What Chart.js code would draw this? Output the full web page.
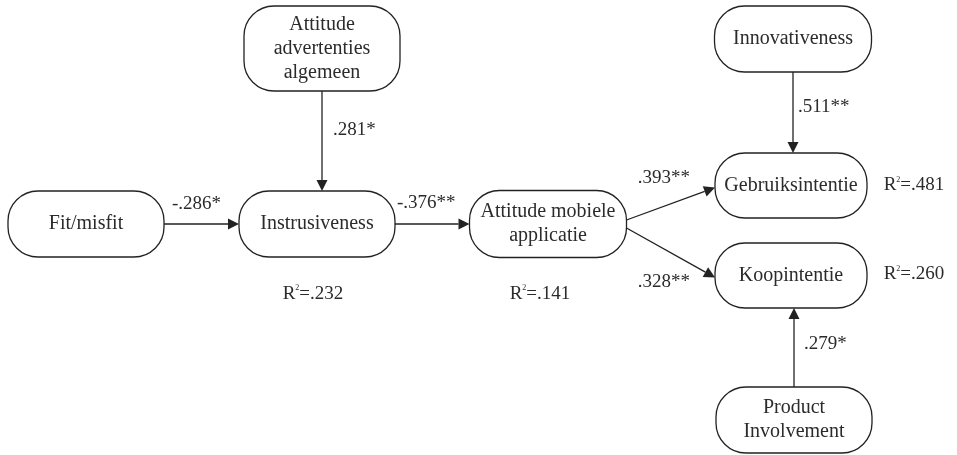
<!DOCTYPE html>
<html>
<head>
<meta charset="utf-8">
<script src="https://cdn.jsdelivr.net/npm/chart.js@4/dist/chart.umd.min.js"></script>
<style>
  html, body { margin: 0; background: #fff; }
</style>
</head>
<body>
<canvas id="path-model" width="957" height="455"></canvas>
<script>
// constructs of the structural model
const constructs = [
  'Fit/misfit',
  'Instrusiveness',
  'Attitude\nadvertenties\nalgemeen',
  'Attitude mobiele\napplicatie',
  'Innovativeness',
  'Gebruiksintentie',
  'Koopintentie',
  'Product\nInvolvement'
];

// paths (index into constructs) and their standardized coefficients
const pathFrom = [0, 2, 1, 3, 3, 4, 7];
const pathTo = [1, 1, 3, 5, 6, 5, 6];
const pathCoefficients = ['-.286*', '.281*', '-.376**', '.393**', '.328**', '.511**', '.279*'];

// explained variance
const explainedConstructs = [1, 3, 5, 6];
const rSquared = ['.232', '.141', '.481', '.260'];

// layout (diagram units = pixels of the original figure)
const nodeX = [86, 317, 322, 548, 793, 791, 791, 794];
const nodeY = [224, 224, 48.5, 224, 39, 185.5, 275.5, 420];
const nodeW = [156, 156, 156, 157, 157, 152, 152, 156];
const nodeH = [66, 66, 85, 67, 66, 65, 65, 66];
const coefDX = [-5, 11, -6, -7, -7, 5, 10];
const coefDY = [-20, -11, -21, -26, 29, -5, -3];
const coefAlign = ['center', 'left', 'center', 'center', 'center', 'left', 'left'];
const r2DX = [-4, -8, 123, 123];
const r2DY = [70, 70, 0, -1];

const INK = '#222';
const TEXT = '#2b2b2b';
const FONT = '"Liberation Serif", "DejaVu Serif", serif';

const roundedBox = (ctx, x, y, w, h, r) => {
  ctx.beginPath();
  ctx.moveTo(x + r, y);
  ctx.lineTo(x + w - r, y);
  ctx.arcTo(x + w, y, x + w, y + r, r);
  ctx.lineTo(x + w, y + h - r);
  ctx.arcTo(x + w, y + h, x + w - r, y + h, r);
  ctx.lineTo(x + r, y + h);
  ctx.arcTo(x, y + h, x, y + h - r, r);
  ctx.lineTo(x, y + r);
  ctx.arcTo(x, y, x + r, y, r);
  ctx.closePath();
};

const drawArrow = (ctx, x1, y1, x2, y2) => {
  const angle = Math.atan2(y2 - y1, x2 - x1);
  const head = 11;
  const half = 5.5;
  const bx = x2 - head * Math.cos(angle);
  const by = y2 - head * Math.sin(angle);
  ctx.beginPath();
  ctx.moveTo(x1, y1);
  ctx.lineTo(bx, by);
  ctx.stroke();
  ctx.beginPath();
  ctx.moveTo(x2, y2);
  ctx.lineTo(bx + half * Math.sin(angle), by - half * Math.cos(angle));
  ctx.lineTo(bx - half * Math.sin(angle), by + half * Math.cos(angle));
  ctx.closePath();
  ctx.fill();
};

const pathDiagram = {
  id: 'pathDiagram',
  afterDatasetsDraw(chart) {
    const { ctx, scales: { x, y } } = chart;
    const points = chart.getDatasetMeta(0).data;

    const boxes = points.map((p, i) => {
      const w = x.getPixelForValue(nodeX[i] + nodeW[i] / 2) - x.getPixelForValue(nodeX[i] - nodeW[i] / 2);
      const h = y.getPixelForValue(nodeY[i] + nodeH[i] / 2) - y.getPixelForValue(nodeY[i] - nodeH[i] / 2);
      return { x: p.x, y: p.y, w, h };
    });

    ctx.save();
    ctx.strokeStyle = INK;
    ctx.fillStyle = INK;
    ctx.lineWidth = 1.3;

    // construct boxes
    boxes.forEach((b, i) => {
      roundedBox(ctx, b.x - b.w / 2, b.y - b.h / 2, b.w, b.h, 30);
      ctx.stroke();

      const lines = constructs[i].split('\n');
      ctx.fillStyle = TEXT;
      ctx.font = `20px ${FONT}`;
      ctx.textAlign = 'center';
      ctx.textBaseline = 'middle';
      lines.forEach((line, k) => {
        ctx.fillText(line, b.x, b.y + (k - (lines.length - 1) / 2) * 24);
      });
      ctx.fillStyle = INK;
    });

    // paths
    pathFrom.forEach((from, i) => {
      const a = boxes[from];
      const b = boxes[pathTo[i]];
      const dx = b.x - a.x;
      const dy = b.y - a.y;
      let x1, y1, x2, y2;
      if (Math.abs(dx) > Math.abs(dy)) {
        x1 = a.x + Math.sign(dx) * a.w / 2;
        y1 = a.y + Math.sign(dy) * 4;
        x2 = b.x - Math.sign(dx) * b.w / 2;
        y2 = b.y + (dy !== 0 ? 2 : 0);
      } else {
        x1 = a.x;
        y1 = a.y + Math.sign(dy) * a.h / 2;
        x2 = a.x;
        y2 = b.y - Math.sign(dy) * b.h / 2;
      }
      drawArrow(ctx, x1, y1, x2, y2);

      ctx.fillStyle = TEXT;
      ctx.font = `19px ${FONT}`;
      ctx.textAlign = coefAlign[i];
      ctx.textBaseline = 'middle';
      ctx.fillText(pathCoefficients[i], (x1 + x2) / 2 + coefDX[i], (y1 + y2) / 2 + coefDY[i]);
      ctx.fillStyle = INK;
    });

    // R squared
    ctx.fillStyle = TEXT;
    ctx.textBaseline = 'middle';
    explainedConstructs.forEach((node, i) => {
      const b = boxes[node];
      const cx = b.x + r2DX[i];
      const cy = b.y + r2DY[i];
      ctx.font = `19px ${FONT}`;
      const wR = ctx.measureText('R').width;
      const wRest = ctx.measureText('=' + rSquared[i]).width;
      ctx.font = `8px ${FONT}`;
      const wSup = ctx.measureText('2').width;
      let left = cx - (wR + wSup + wRest) / 2;
      ctx.textAlign = 'left';
      ctx.font = `19px ${FONT}`;
      ctx.fillText('R', left, cy);
      ctx.font = `8px ${FONT}`;
      ctx.fillText('2', left + wR, cy - 6);
      ctx.font = `19px ${FONT}`;
      ctx.fillText('=' + rSquared[i], left + wR + wSup, cy);
    });
    ctx.restore();
  }
};

new Chart(document.getElementById('path-model'), {
  type: 'scatter',
  data: {
    datasets: [{
      label: 'Constructs',
      data: constructs.map((c, i) => ({ x: nodeX[i], y: nodeY[i] })),
      pointRadius: 0,
      pointHoverRadius: 0
    }]
  },
  options: {
    responsive: false,
    animation: false,
    devicePixelRatio: 1,
    layout: { padding: 0 },
    scales: {
      x: { type: 'linear', min: 0, max: 957, display: false },
      y: { type: 'linear', min: 0, max: 455, reverse: true, display: false }
    },
    plugins: {
      legend: { display: false },
      tooltip: { enabled: false }
    }
  },
  plugins: [pathDiagram]
});
</script>
</body>
</html>
